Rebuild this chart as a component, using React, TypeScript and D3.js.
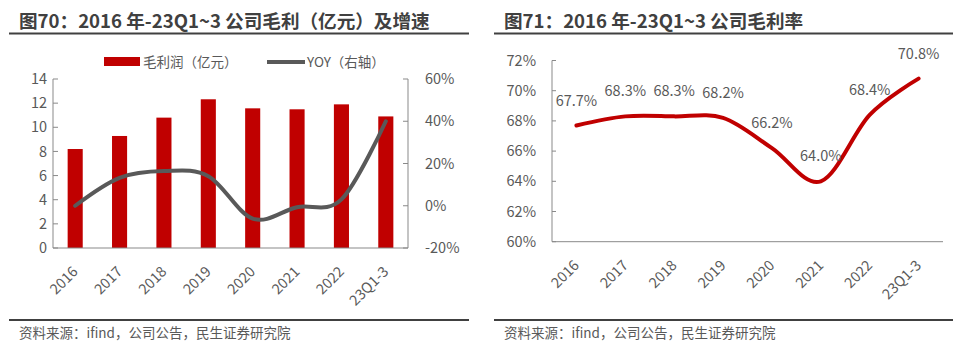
import * as d3 from "d3";

const categories = ["2016", "2017", "2018", "2019", "2020", "2021", "2022", "23Q1-3"];
const grossProfit = [8.2, 9.28, 10.8, 12.32, 11.57, 11.49, 11.9, 10.9];
const yoy = [0, 13.2, 16.4, 14.0, -6.1, -0.7, 3.0, 40.0];
const grossMargin = [67.7, 68.3, 68.3, 68.2, 66.2, 64.0, 68.4, 70.8];
const profitTicks = [0, 2, 4, 6, 8, 10, 12, 14];
const yoyTicks = [-20, 0, 20, 40, 60];
const marginTicks = [60, 62, 64, 66, 68, 70, 72];

const FONT = '"Noto Sans CJK SC", "Noto Sans", sans-serif';
const RED = "#C00000";
const GREY_LINE = "#595959";
const AXIS = "#898989";
const TEXT = "#595959";
const TITLE = "#404040";

const Header = ({ x, x0, x1, title }: { x: number; x0: number; x1: number; title: string }) => (
  <g>
    <text x={x} y={28} fontSize={18.6} fontWeight="bold" fill={TITLE}>{title}</text>
    <line x1={x0} x2={x1} y1={33.5} y2={33.5} stroke="#404040" strokeWidth={2} />
    <line x1={x0} x2={x1} y1={320} y2={320} stroke="#404040" strokeWidth={2} />
    <text x={x} y={338} fontSize={13.5} fill={TEXT}>资料来源：ifind，公司公告，民生证券研究院</text>
  </g>
);

const XLabels = ({ x, axisY }: { x: d3.ScaleBand<string>; axisY: number }) => (
  <g>
    {categories.map((c) => {
      const cx = x(c)! + x.bandwidth() / 2;
      return (
        <text key={c} transform={`translate(${cx},${axisY + 21}) rotate(-45)`}
          textAnchor="end" dy="0.35em" fontSize={14.5} fill={TEXT}>{c}</text>
      );
    })}
  </g>
);

const ProfitChart = () => {
  const left = 53, right = 408, top = 79, bottom = 248;
  const x = d3.scaleBand<string>().domain(categories).range([left, right]);
  const yL = d3.scaleLinear().domain([0, 14]).range([bottom, top]);
  const yR = d3.scaleLinear().domain([-20, 60]).range([bottom, top]);
  const barW = x.bandwidth() * 0.34;
  const line = d3.line<number>()
    .x((_, i) => x(categories[i])! + x.bandwidth() / 2)
    .y((d) => yR(d))
    .curve(d3.curveCardinal.tension(0));

  return (
    <g>
      <Header x={19} x0={9} x1={469} title="图70：2016 年-23Q1~3 公司毛利（亿元）及增速" />
      <rect x={104} y={57} width={36} height={9} fill={RED} />
      <text x={143} y={62} dy="0.35em" fontSize={13.5} fill={TEXT}>毛利润（亿元）</text>
      <line x1={267} x2={305} y1={62} y2={62} stroke={GREY_LINE} strokeWidth={4} />
      <text x={307} y={62} dy="0.35em" fontSize={13.5} fill={TEXT}>YOY（右轴）</text>

      {grossProfit.map((v, i) => (
        <rect key={i} x={x(categories[i])! + (x.bandwidth() - barW) / 2} y={yL(v)}
          width={barW} height={yL(0) - yL(v)} fill={RED} />
      ))}

      <line x1={left} x2={left} y1={top} y2={bottom} stroke={AXIS} />
      <line x1={right} x2={right} y1={top} y2={bottom} stroke={AXIS} />
      <line x1={left} x2={right} y1={bottom} y2={bottom} stroke={AXIS} />
      {profitTicks.map((t) => (
        <g key={t}>
          <line x1={left} x2={left + 5} y1={yL(t)} y2={yL(t)} stroke={AXIS} />
          <text x={47} y={yL(t)} dy="0.35em" textAnchor="end" fontSize={14.5} fill={TEXT}>{t}</text>
        </g>
      ))}
      {yoyTicks.map((t) => (
        <g key={t}>
          <line x1={right - 5} x2={right} y1={yR(t)} y2={yR(t)} stroke={AXIS} />
          <text x={right + 17} y={yR(t)} dy="0.35em" fontSize={14.5} fill={TEXT}>{t}%</text>
        </g>
      ))}

      <path d={line(yoy)!} fill="none" stroke={GREY_LINE} strokeWidth={4} strokeLinecap="round" />
      <XLabels x={x} axisY={bottom} />
    </g>
  );
};

const MarginChart = () => {
  const left = 552, right = 943, top = 60.5, bottom = 241.7;
  const x = d3.scaleBand<string>().domain(categories).range([left, right]);
  const y = d3.scaleLinear().domain([60, 72]).range([bottom, top]);
  const cx = (i: number) => x(categories[i])! + x.bandwidth() / 2;
  const line = d3.line<number>()
    .x((_, i) => cx(i))
    .y((d) => y(d))
    .curve(d3.curveCardinal.tension(0));

  return (
    <g>
      <Header x={504} x0={494} x1={953} title="图71：2016 年-23Q1~3 公司毛利率" />
      <line x1={left} x2={left} y1={top} y2={bottom} stroke={AXIS} />
      <line x1={left} x2={right} y1={bottom} y2={bottom} stroke={AXIS} />
      {marginTicks.map((t) => (
        <g key={t}>
          <line x1={left} x2={left + 4} y1={y(t)} y2={y(t)} stroke={AXIS} />
          <text x={536} y={y(t)} dy="0.35em" textAnchor="end" fontSize={14.5} fill={TEXT}>{t}%</text>
        </g>
      ))}
      <path d={line(grossMargin)!} fill="none" stroke={RED} strokeWidth={4} strokeLinecap="round" />
      {grossMargin.map((v, i) => (
        <text key={i} x={cx(i)} y={y(v) - 25} dy="0.35em" textAnchor="middle" fontSize={14.5} fill={TEXT}>
          {v.toFixed(1)}%
        </text>
      ))}
      <XLabels x={x} axisY={bottom} />
    </g>
  );
};

const App = () => (
  <div style={{ position: "fixed", left: 0, top: 0 }}>
    <svg width={969} height={351} style={{ display: "block", fontFamily: FONT, background: "#fff" }}>
      <ProfitChart />
      <MarginChart />
    </svg>
  </div>
);

export default App;
